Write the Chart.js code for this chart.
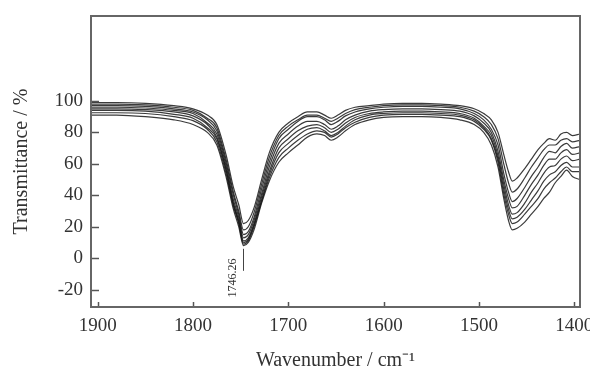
<!DOCTYPE html>
<html>
<head>
<meta charset="utf-8">
<script src="https://cdn.jsdelivr.net/npm/chart.js@4.4.0/dist/chart.umd.min.js"></script>
<style>
  html, body { margin: 0; padding: 0; background: #fff; }
  #wrap { width: 590px; height: 369px; }
</style>
</head>
<body>
<div id="wrap"><canvas id="ftir"></canvas></div>
<script>
const wavenumbers = [1906,1880,1850,1820,1800, 1785,1775,1765,1758,1752, 1747,1742,1736,1728,1720,
  1710,1700,1690,1680,1670, 1662,1655,1648,1640,1630, 1615,1600,1580,1560,1540,
  1520,1505,1495,1487,1480, 1474,1469,1465,1460,1452, 1445,1438,1432,1426,1420, 1414,1408,1402,1394];

// transmittance (%) of each spectrum, top to bottom
const spec1 = [99,99,98.5,97,95, 91,85,65,46,34, 22,24,32,50,67, 80,86,90,93,93, 91,89,91,94,96,
  97,98,98.5,98.5,98, 97,95,92,88,80, 66,55,49,51,57, 63,69,73,76,75, 79,80,78,79];
const spec2 = [98,98,97.5,96,94, 89,83,62,43,30, 18,20,29,47,64, 78,84,88,91,91, 89,87,89,92,94.5,
  96,97,97.5,97.5,97, 96,93.5,90,85,76, 60,48,42,44,51, 58,64,69,72,72, 75,76,74,75];
const spec3 = [97,97,96.5,95,93, 88,81,60,41,28, 15,17,26,44,61, 76,82,87,90,90, 88,85,87,90.5,93,
  95,96,96.5,96.5,96, 95,92,88,82,72, 54,42,36,38,45, 52,58,64,68,67, 71,73,70,71];
const spec4 = [96,96,95.5,94,92, 86,79,58,38,26, 13,15,24,41,58, 73,79,84,87,87, 85,82,84,88,91,
  93.5,94.5,95,95,94.5, 93.5,90.5,86,80,68, 50,38,32,33,40, 47,53,59,63,63, 67,69,66,67];
const spec5 = [95,95,94.5,93,90.5, 85,77,56,36,24, 11,13,22,39,55, 70,76,81,84,85, 83,80,82,86,89.5,
  92,93,93.5,93.5,93, 92,89,84,78,65, 47,34,28,29,35, 42,48,54,58,59, 63,65,62,63];
const spec6 = [94,94,93.5,91.5,89, 83,76,55,35,23, 10,12,21,37,53, 67,73,78,82,83, 81,78,80,84,88,
  91,92,92.5,92.5,92, 91,88,83,76,63, 44,31,25,26,31, 37,43,49,53,55, 59,61,58,58];
const spec7 = [92.5,92.5,92,90,87.5, 82,74,53,34,22, 9,11,20,36,51, 64,70,75,79,81, 80,77,79,83,86.5,
  89.5,91,91.5,91.5,91, 90,87,82,75,61, 41,28,22,23,28, 33,38,44,48,51, 55,58,55,55];
const spec8 = [91,91,90,88,85, 80,72,51,32,20, 8,10,18,35,49, 61,67,72,77,79, 78,75,77,81,85,
  88,89.5,90,90,89.5, 88,85,80,72,58, 38,24,18,19,23, 28,33,38,42,48, 52,56,52,50];

const xTicks = [1900, 1800, 1700, 1600, 1500, 1400];
const yTicks = [-20, 0, 20, 40, 60, 80, 100];
const peakLabel = '1746.26';
const peakPos = 1746.26;

const allSpectra = [spec1, spec2, spec3, spec4, spec5, spec6, spec7, spec8];

const datasets = allSpectra.map(function(s, i) {
    return {
        label: 'spectrum ' + (i + 1),
        data: wavenumbers.map(function(w, j) { return { x: w, y: s[j] }; }),
        borderColor: 'rgba(25,25,25,0.85)',
        borderWidth: 1.2,
        pointRadius: 0,
        cubicInterpolationMode: 'monotone',
        fill: false
    };
});

// frame, inward ticks and the peak label
const framePlugin = {
    id: 'frame',
    afterDraw: function(chart) {
        const ctx = chart.ctx;
        const a = chart.chartArea;
        const xs = chart.scales.x;
        const ys = chart.scales.y;
        ctx.save();
        ctx.strokeStyle = '#555';
        ctx.lineWidth = 1.5;
        xTicks.forEach(function(t) {
            const px = Math.round(xs.getPixelForValue(t)) + 0.5;
            ctx.beginPath();
            ctx.moveTo(px, a.bottom);
            ctx.lineTo(px, a.bottom - 5);
            ctx.stroke();
        });
        yTicks.forEach(function(t) {
            const py = Math.round(ys.getPixelForValue(t)) + 0.5;
            ctx.beginPath();
            ctx.moveTo(a.left, py);
            ctx.lineTo(a.left + 8, py);
            ctx.stroke();
        });
        ctx.lineWidth = 2;
        ctx.strokeStyle = '#666';
        ctx.strokeRect(a.left, a.top, a.right - a.left, a.bottom - a.top);

        // peak marker
        const px = Math.round(xs.getPixelForValue(peakPos)) - 0.5;
        ctx.lineWidth = 1;
        ctx.strokeStyle = '#444';
        ctx.beginPath();
        ctx.moveTo(px, ys.getPixelForValue(6));
        ctx.lineTo(px, ys.getPixelForValue(-8));
        ctx.stroke();
        ctx.translate(px - 11, ys.getPixelForValue(-12.5));
        ctx.rotate(-Math.PI / 2);
        ctx.fillStyle = '#333';
        ctx.font = '12px "Liberation Serif"';
        ctx.textAlign = 'center';
        ctx.textBaseline = 'middle';
        ctx.fillText(peakLabel, 0, 0);
        ctx.restore();
    }
};

const ctx = document.getElementById('ftir').getContext('2d');
new Chart(ctx, {
    type: 'line',
    data: { datasets: datasets },
    options: {
        responsive: true,
        maintainAspectRatio: false,
        animation: false,
        events: [],
        layout: { padding: { top: 16, right: 10, left: 0, bottom: 0 } },
        plugins: {
            legend: { display: false },
            tooltip: { enabled: false }
        },
        scales: {
            x: {
                type: 'linear',
                reverse: true,
                min: 1394,
                max: 1907,
                afterBuildTicks: function(scale) {
                    scale.ticks = xTicks.map(function(v) { return { value: v }; });
                },
                afterFit: function(scale) {
                    scale.height = 62;
                    scale.paddingLeft = 0;
                    scale.paddingRight = 0;
                },
                grid: { display: false, drawTicks: false },
                border: { display: false },
                ticks: {
                    padding: 8,
                    maxRotation: 0,
                    color: '#333',
                    font: { family: 'Liberation Serif', size: 19 },
                    callback: function(v) { return String(v); }
                },
                title: {
                    display: true,
                    text: 'Wavenumber / cm⁻¹',
                    color: '#333',
                    padding: { top: 0, bottom: -4 },
                    font: { family: 'Liberation Serif', size: 20 }
                }
            },
            y: {
                min: -31,
                max: 154,
                afterBuildTicks: function(scale) {
                    scale.ticks = yTicks.map(function(v) { return { value: v }; });
                },
                afterFit: function(scale) {
                    scale.width = 91;
                    scale.paddingTop = 0;
                    scale.paddingBottom = 0;
                },
                grid: { display: false, drawTicks: false },
                border: { display: false },
                ticks: {
                    padding: 8,
                    color: '#333',
                    font: { family: 'Liberation Serif', size: 19 }
                },
                title: {
                    display: true,
                    text: 'Transmittance / %',
                    color: '#333',
                    padding: { top: 10, bottom: 0 },
                    font: { family: 'Liberation Serif', size: 20 }
                }
            }
        }
    },
    plugins: [framePlugin]
});
</script>
</body>
</html>
